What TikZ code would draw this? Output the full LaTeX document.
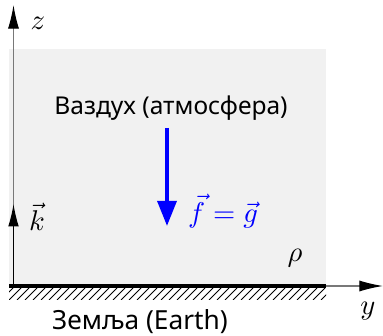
\documentclass[tikz,border=0pt]{standalone}
\usepackage{amsmath, amssymb}
\usepackage{fontspec}
\setmainfont{Noto Sans}
\usepackage{xcolor}
\usepackage{tikz}
\usetikzlibrary{positioning, arrows.meta, calc}
\definecolor{airgray}{RGB}{241,241,241}
\definecolor{axisgray}{RGB}{120,120,120}
\definecolor{fblue}{RGB}{0,0,255}

\begin{document}
\begin{tikzpicture}[x=0.35pt, y=-0.35pt, every node/.style={inner sep=0pt},
    axis/.style={draw=axisgray, line width=0.45pt, -{Latex[length=8.3pt, width=3.9pt, color=black]}},
    label/.style={font=\fontsize{8.6}{10}\selectfont}]
    \useasboundingbox (0,0) rectangle (383,336);
    % air region and ground
    \fill[airgray] (9,49) rectangle (326,285);
    \coordinate (O) at (13.5,286);
    \coordinate (gl) at (9,286);
    \coordinate (gr) at (326,286);
    \begin{scope}
      \clip (9,288) rectangle (326,300);
      \foreach \i in {0,...,42}
        \draw[line width=0.35pt] (1+8*\i,300) -- (13+8*\i,288);
    \end{scope}
    \draw[line width=1.4pt] (gl) -- (gr);
    % axes
    \coordinate (ztip) at (13.5,5);
    \coordinate (ytip) at (383,286);
    \draw[axis] (O) -- (ztip);
    \draw[axis] (gr) -- (ytip);
    \coordinate (ktip) at (13.5,204);
    \draw[line width=0.45pt, -{Latex[length=7.8pt, width=3.7pt]}] (O) -- (ktip);
    % gravity
    \coordinate (fs) at (167,128);
    \coordinate (fe) at (167,226);
    \draw[fblue, line width=1.4pt, -{Triangle[length=8.8pt, width=6.6pt]}] (fs) -- (fe);
    % labels
    \node (z) at (38,23) {$z$};
    \node (y) at (368,311) {$y$};
    \node (k) at (37,217) {$\vec{k}$};
    \node[text=fblue] (fg) at (223,211) {$\vec{f}=\vec{g}$};
    \node (rho) at (295,258) {$\rho$};
    \node[label] (air) at (171,108) {Ваздух (атмосфера)};
    \node[label, font=\fontsize{9.2}{11}\selectfont] (earth) at (140,322) {Земља (Earth)};
  \end{tikzpicture}
\end{document}
